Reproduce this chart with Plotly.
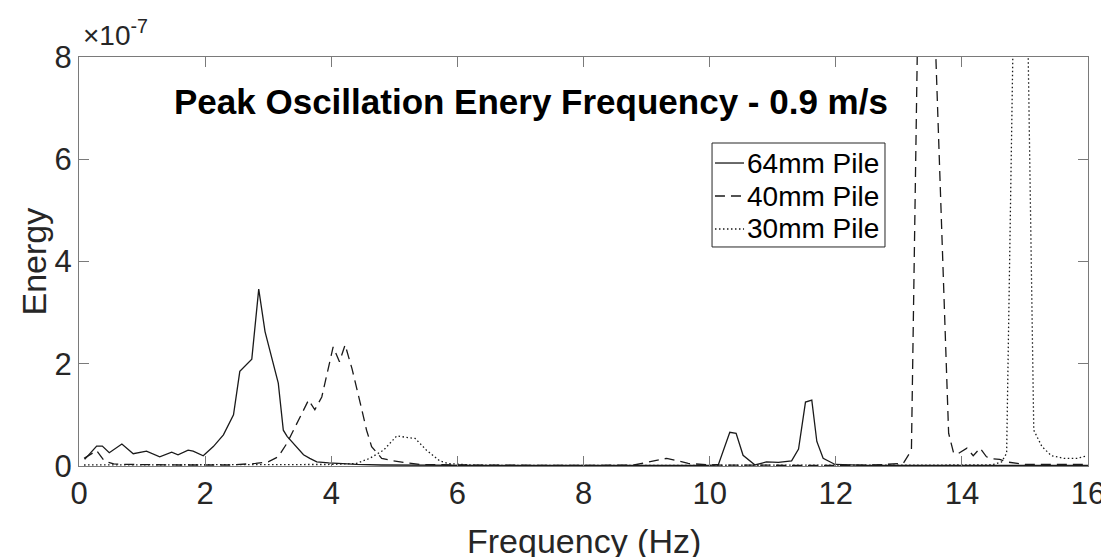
import plotly.graph_objects as go

# 1. DATA (energy in units of 1e-7)
f_64 = [0.09, 0.28, 0.37, 0.48, 0.68, 0.86, 1.07, 1.28, 1.47, 1.57, 1.73, 1.81, 1.97,
        2.13, 2.29, 2.37, 2.45, 2.55, 2.74, 2.85, 2.95, 3.16, 3.24, 3.30, 3.45, 3.56,
        3.66, 3.77, 3.96, 4.4, 4.8, 5.5, 6.5, 8.0, 9.5, 10.0, 10.14, 10.32, 10.42,
        10.53, 10.72, 10.9, 11.09, 11.30, 11.41, 11.52, 11.62, 11.70, 11.80, 11.99,
        12.5, 13.5, 14.5, 16.0]
e_64 = [0.13, 0.39, 0.39, 0.26, 0.43, 0.24, 0.29, 0.18, 0.27, 0.22, 0.31, 0.29, 0.20,
        0.38, 0.61, 0.80, 1.0, 1.85, 2.09, 3.46, 2.63, 1.62, 0.70, 0.58, 0.38, 0.22,
        0.15, 0.08, 0.06, 0.03, 0.02, 0.01, 0.01, 0.01, 0.01, 0.01, 0.03, 0.66, 0.64,
        0.21, 0.02, 0.08, 0.07, 0.10, 0.33, 1.25, 1.29, 0.48, 0.15, 0.03,
        0.01, 0.01, 0.01, 0.01]

f_40 = [0.08, 0.28, 0.40, 0.55, 0.8, 1.2, 1.6, 2.0, 2.4, 2.8, 3.0, 3.16, 3.30, 3.43,
        3.55, 3.64, 3.74, 3.85, 4.03, 4.13, 4.22, 4.33, 4.46, 4.56, 4.64, 4.80, 4.98,
        5.2, 5.4, 6.0, 7.0, 8.0, 8.8, 9.05, 9.32, 9.5, 9.66, 10.0, 11.0, 12.0, 12.6,
        12.9, 13.07, 13.20, 13.31, 13.43, 13.56, 13.79, 13.87, 13.95, 14.08, 14.18,
        14.29, 14.39, 14.5, 14.6, 14.71, 14.88, 15.0, 15.5, 16.0]
e_40 = [0.15, 0.30, 0.10, 0.04, 0.03, 0.02, 0.02, 0.02, 0.02, 0.05, 0.08, 0.18, 0.45, 0.77,
        1.05, 1.29, 1.10, 1.35, 2.33, 2.04, 2.37, 1.90, 1.23, 0.70, 0.38, 0.15, 0.10,
        0.06, 0.03, 0.02, 0.01, 0.01, 0.02, 0.08, 0.15, 0.10, 0.05, 0.02, 0.01, 0.01, 0.02,
        0.03, 0.05, 0.31, 9.5, 14.0, 9.0, 0.64, 0.25, 0.25, 0.35, 0.20,
        0.35, 0.18, 0.14, 0.13, 0.08, 0.05, 0.03, 0.03, 0.03]

f_30 = [0.08, 1.0, 2.0, 3.0, 4.0, 4.40, 4.61, 4.83, 5.04, 5.19, 5.33, 5.51, 5.72, 5.85,
        6.2, 7.0, 9.0, 11.0, 13.0, 14.4, 14.5, 14.63, 14.71, 14.82, 14.95, 15.04, 15.14,
        15.27, 15.42, 15.62, 15.83, 15.98]
e_30 = [0.02, 0.02, 0.02, 0.02, 0.03, 0.05, 0.15, 0.31, 0.59, 0.56, 0.54, 0.31, 0.10, 0.05,
        0.02, 0.01, 0.01, 0.01, 0.01, 0.02, 0.03, 0.08, 0.25, 9.0, 13.0, 9.0, 0.70,
        0.38, 0.20, 0.15, 0.15, 0.20]

names = ["64mm Pile", "40mm Pile", "30mm Pile"]
y_ticks = [0, 2, 4, 6, 8]

FONT = "Liberation Sans, Arial, Helvetica, sans-serif"
AX = "#7a7a7a"
TXT = "#262626"
LINE = "#1a1a1a"
styles = ["solid", "10px,6px", "1.5px,2.5px"]

# 2. FIGURE
fig = go.Figure()
for f, e, name, dash in zip([f_64, f_40, f_30], [e_64, e_40, e_30], names, styles):
    fig.add_trace(go.Scatter(
        x=f, y=[v * 1e-7 for v in e], mode="lines", name=name,
        line=dict(color=LINE, width=1.3, dash=dash)
    ))

# hand-built legend box (MATLAB style, tight rows)
leg_rows = [0.7408, 0.6601, 0.5795]
shapes = [dict(type="rect", xref="paper", yref="paper", x0=0.6274, x1=0.7988,
               y0=0.5355, y1=0.7897, line=dict(color=TXT, width=1),
               fillcolor="white", layer="above")]
annots = []
for yy, name, dash in zip(leg_rows, names, styles):
    shapes.append(dict(type="line", xref="paper", yref="paper", x0=0.6303, x1=0.6591,
                       y0=yy, y1=yy, line=dict(color=LINE, width=1.3, dash=dash),
                       layer="above"))
    annots.append(dict(text=name, x=0.6605, y=yy, xref="paper", yref="paper",
                       xanchor="left", yanchor="middle", showarrow=False,
                       font=dict(size=28, color="black")))

annots += [
    dict(text="<b>Peak Oscillation Enery Frequency - 0.9 m/s</b>", x=0.4475, y=0.892,
         xref="paper", yref="paper", xanchor="center", yanchor="middle",
         showarrow=False, font=dict(size=35, color="black")),
    dict(text="Frequency (Hz)", x=0.5, y=0, xref="paper", yref="paper",
         xanchor="center", yanchor="middle", yshift=-75, showarrow=False,
         font=dict(size=34, color=TXT)),
    dict(text="Energy", x=0, y=0.5, xref="paper", yref="paper", xanchor="center",
         yanchor="middle", xshift=-46, textangle=-90, showarrow=False,
         font=dict(size=34, color=TXT)),
    dict(text="×10<sup>-7</sup>", x=0, y=1, xref="paper", yref="paper",
         xanchor="left", yanchor="bottom", xshift=2, yshift=4,
         showarrow=False, font=dict(size=28, color=TXT)),
]

# page body has an 8px margin, so the figure is 8px smaller and margins shifted
fig.update_layout(
    width=1101, height=549,
    paper_bgcolor="white", plot_bgcolor="white",
    margin=dict(l=71, r=21, t=49, b=91),
    font=dict(family=FONT, color=TXT),
    showlegend=False,
    shapes=shapes,
    annotations=annots,
)

fig.update_xaxes(
    range=[0, 16], tickvals=list(range(0, 17, 2)), automargin=False,
    ticks="inside", ticklen=10, tickcolor=AX, showline=True, linecolor=AX,
    linewidth=1, mirror="ticks", showgrid=False, zeroline=False,
    tickfont=dict(size=31, color=TXT)
)
fig.update_yaxes(
    range=[0, 8e-7], tickvals=[v * 1e-7 for v in y_ticks], automargin=False,
    ticktext=[str(v) for v in y_ticks],
    ticks="inside", ticklen=10, tickcolor=AX, showline=True, linecolor=AX,
    linewidth=1, mirror="ticks", showgrid=False, zeroline=False,
    tickfont=dict(size=31, color=TXT)
)

fig.write_html("out.html")
